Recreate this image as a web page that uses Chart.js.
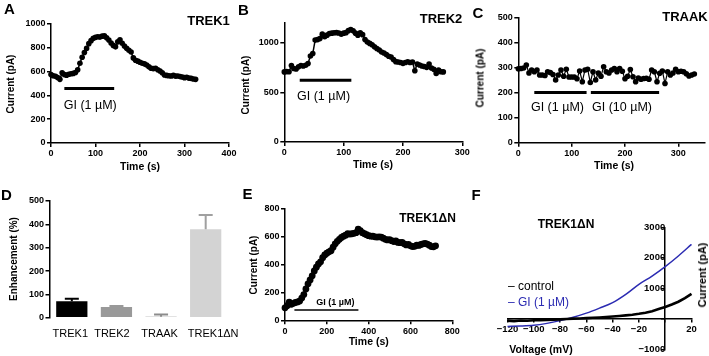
<!DOCTYPE html>
<html><head><meta charset="utf-8">
<script src="https://cdn.jsdelivr.net/npm/chart.js@4/dist/chart.umd.min.js"></script>
<style>
html,body{margin:0;padding:0;background:#fff;}
body{width:709px;height:356px;position:relative;overflow:hidden;font-family:"Liberation Sans",Arial,sans-serif;}
canvas{position:absolute;}
.t{position:absolute;transform:translate(-50%,-50%);white-space:nowrap;color:#000;line-height:1;}
.l{position:absolute;transform:translate(0,-50%);white-space:nowrap;line-height:1;}
.r{position:absolute;transform:translate(-50%,-50%) rotate(-90deg);white-space:nowrap;color:#000;line-height:1;}
</style></head><body>
<script>
// ---------- DATA ----------
// A: TREK1
const timeA = [0,5,10,15,20,25,30,35,40,45,50,55,60,65,70,75,80,85,90,95,100,105,110,115,120,125,130,135,140,145,150,155,160,165,170,175,180,185,190,195,200,205,210,215,220,225,230,235,240,245,250,255,260,265,270,275,280,285,290,295,300,305,310,315,320,325];
const currentA = [575,565,560,550,535,590,575,570,578,582,585,592,615,670,720,760,795,835,860,880,888,893,890,898,900,885,865,840,820,808,850,868,838,815,796,780,765,715,695,688,678,670,665,655,640,628,625,628,615,605,590,572,568,565,563,568,562,563,558,555,549,552,545,543,538,535];
const drugA = [[30,142]]; const drugLevelA = 459; const drugLabelA = ['GI (1 µM)'];
const xTicksA = [0,100,200,300,400]; const yTicksA = [0,200,400,600,800,1000];

// B: TREK2
const timeB = [0,4,8,12,16,20,24,28,32,36,40,44,48,52,56,60,64,68,72,76,80,84,88,92,96,100,104,108,112,116,120,124,128,132,136,140,144,148,152,156,160,164,168,172,176,180,184,188,192,196,200,204,208,212,216,220,224,228,232,236,240,244,248,252,256,260,264,268];
const currentB = [705,708,707,770,740,735,757,770,765,772,790,865,890,1025,1030,1040,1085,1058,1075,1092,1095,1098,1100,1097,1085,1095,1100,1120,1132,1118,1095,1075,1098,1080,1030,1005,992,978,958,940,925,905,895,880,862,855,830,808,805,800,791,800,807,800,805,717,784,775,764,760,751,784,745,731,690,724,707,705];
const drugB = [[26,113]]; const drugLevelB = 620; const drugLabelB = ['GI (1 µM)'];
const xTicksB = [0,100,200,300]; const yTicksB = [0,500,1000];

// C: TRAAK
const timeC = [0,5,10,15,20,25,30,35,40,45,50,55,60,65,70,75,80,85,90,95,100,105,110,115,120,125,130,135,140,145,150,155,160,165,170,175,180,185,190,195,200,205,210,215,220,225,230,235,240,245,250,255,260,265,270,275,280,285,290,295,300,305,310,315,320,325,330];
const currentC = [295,296,298,310,278,290,283,290,270,270,268,283,280,272,250,270,290,265,293,262,262,262,255,286,243,290,293,240,283,250,278,265,303,283,278,290,296,283,296,285,255,265,292,263,243,258,253,256,257,253,290,283,243,277,286,236,283,270,278,293,283,285,283,275,266,270,274];
const drugC = [[30,128],[136,264]]; const drugLevelC = 200; const drugLabelC = ['GI (1 µM)','GI (10 µM)'];
const xTicksC = [0,100,200,300]; const yTicksC = [0,100,200,300,400,500];

// D: enhancement
const channelsD = ['TREK1','TREK2','TRAAK','TREK1ΔN'];
const meanD = [71,46,4,379];
const semD = [10,4,10,61];
const yTicksD = [0,100,200,300,400,500];

// E: TREK1ΔN time course
const timeE = [0,10,20,30,40,50,60,70,80,90,100,110,120,130,140,150,160,170,180,190,200,210,220,230,240,250,260,270,280,290,300,310,320,330,340,350,360,370,380,390,400,410,420,430,440,450,460,470,480,490,500,510,520,530,540,550,560,570,580,590,600,610,620,630,640,650,660,670,680,690,700,710,720];
const currentE = [90,105,130,115,122,128,132,138,160,185,225,262,290,320,355,382,405,420,450,470,482,492,500,525,550,568,582,595,605,612,622,620,622,625,630,655,645,630,622,615,608,605,605,600,598,600,598,590,582,578,580,572,566,570,560,558,560,550,542,545,535,530,532,540,538,545,550,552,548,540,530,528,535];
const drugE = [[45,351]]; const drugLevelE = 74; const drugLabelE = ['GI (1 µM)'];
const xTicksE = [0,200,400,600,800]; const yTicksE = [0,200,400,600,800];

// F: I-V curves
const voltCtrl = [-120,-115,-110,-105,-100,-95,-90,-85,-80,-75,-70,-65,-60,-55,-50,-45,-40,-35,-30,-25,-20,-15,-10,-5,0,5,10,15,20];
const currentCtrl = [-60,-75,-55,-65,-50,-48,-40,-32,-20,-8,5,12,22,32,45,58,75,92,112,135,165,200,248,318,390,470,560,680,820];
const voltGI = [-120,-110,-100,-90,-80,-70,-60,-50,-40,-30,-20,-10,0,10,20];
const currentGI = [-250,-240,-215,-150,-60,50,185,350,530,800,1130,1400,1710,2060,2440];
const xTicksF = [-120,-100,-80,-60,-40,-20,0,20]; const yTicksF = [-1000,0,1000,2000,3000];

// ---------- SETUP ----------
const FAM = '"Liberation Sans", Arial, sans-serif';
Chart.defaults.font.family = FAM;
Chart.defaults.color = '#000';
Chart.defaults.animation = false;
Chart.defaults.responsive = false;
Chart.defaults.maintainAspectRatio = false;
Chart.defaults.plugins.legend.display = false;
Chart.defaults.plugins.tooltip.enabled = false;

function makeCanvas(r){
  const c = document.createElement('canvas');
  c.width = r.w; c.height = r.h;
  c.style.left = r.x+'px'; c.style.top = r.y+'px';
  c.style.width = r.w+'px'; c.style.height = r.h+'px';
  document.body.appendChild(c);
  return c;
}
const plain = v => String(v);
function linAxis(min,max,tickVals,fit,font){
  return {
    type:'linear', min, max,
    afterBuildTicks:(s)=>{ s.ticks = tickVals.map(v=>({value:v})); },
    ticks:{autoSkip:false, maxRotation:0, padding:1.5, color:'#000', callback:plain,
           font: font || {size:9, weight:'bold'}},
    grid:{drawOnChartArea:false, drawTicks:true, tickLength:4, color:'#000', lineWidth:1.5},
    border:{display:true, color:'#000', width:1.5},
    afterFit:(s)=>{ if(s.isHorizontal()) s.height = fit; else s.width = fit; }
  };
}
const drugPlugin = {
  id:'drug',
  afterDatasetsDraw(chart, args, o){
    if(!o || !o.bars) return;
    const {ctx} = chart; const x = chart.scales.x, y = chart.scales.y;
    ctx.save();
    o.bars.forEach((b,i)=>{
      const yy = y.getPixelForValue(o.level);
      const x1 = x.getPixelForValue(b[0]), x2 = x.getPixelForValue(b[1]);
      ctx.strokeStyle = '#000'; ctx.lineWidth = o.lw;
      ctx.beginPath(); ctx.moveTo(x1,yy); ctx.lineTo(x2,yy); ctx.stroke();
      ctx.fillStyle = '#000'; ctx.font = o.font; ctx.textAlign='center'; ctx.textBaseline='middle';
      ctx.fillText(o.labels[i], (x1+x2)/2 + o.dx, yy + o.dy);
    });
    ctx.restore();
  }
};
function timeChart(rect, area, xr, yr, xt, yt, xs, ys, ptR, lw, drug){
  const c = makeCanvas(rect);
  return new Chart(c, {
    type:'line',
    data:{datasets:[{data: xs.map((t,i)=>({x:t, y:ys[i]})), borderColor:'#000', backgroundColor:'#000',
      borderWidth:lw, pointRadius:ptR, pointBorderWidth:0, tension:0, clip:false}]},
    options:{
      layout:{padding:{left:0, top:area.t-rect.y, right:rect.x+rect.w-area.r, bottom:0}},
      scales:{x: linAxis(xr[0],xr[1],xt, rect.y+rect.h-area.b), y: linAxis(yr[0],yr[1],yt, area.l-rect.x)},
      plugins:{drug: drug}
    },
    plugins:[drugPlugin]
  });
}

// A
timeChart({x:0,y:0,w:245,h:175},{l:51,t:24,r:229,b:143},[0,400],[0,1000],xTicksA,yTicksA,timeA,currentA,2.8,1.5,
  {bars:drugA, level:drugLevelA, labels:drugLabelA, lw:3, font:'12.5px '+FAM, dx:1, dy:17.5});
// B
timeChart({x:235,y:0,w:240,h:175},{l:284.3,t:22.7,r:462.3,b:142},[0,300],[0,1200],xTicksB,yTicksB,timeB,currentB,2.8,1.5,
  {bars:drugB, level:drugLevelB, labels:drugLabelB, lw:3, font:'12.5px '+FAM, dx:-2, dy:16.5});
// C
timeChart({x:470,y:0,w:239,h:175},{l:518.3,t:17.3,r:705.8,b:142.7},[0,350],[0,500],xTicksC,yTicksC,timeC,currentC,2.8,1.2,
  {bars:drugC, level:drugLevelC, labels:drugLabelC, lw:3, font:'12.5px '+FAM, dx:-3, dy:15.5});
// E
timeChart({x:235,y:175,w:240,h:181},{l:285,t:209,r:452.3,b:320.3},[0,800],[0,800],xTicksE,yTicksE,timeE,currentE,3.4,3,
  {bars:drugE, level:drugLevelE, labels:drugLabelE, lw:1.5, font:'bold 9px '+FAM, dx:9, dy:-7.5});

// D
const barColors = ['#000000','#999999','#8c8c8c','#d3d3d3'];
const errColors = ['#000000','#999999','#8c8c8c','#a0a0a0'];
const labelShiftD = [-1.5,-4.5,-1.5,7.5];
const errPlugin = {
  id:'err',
  afterDatasetsDraw(chart){
    const meta = chart.getDatasetMeta(0); const y = chart.scales.y; const ctx = chart.ctx;
    ctx.save(); ctx.lineWidth = 2;
    meta.data.forEach((bar,i)=>{
      const top = y.getPixelForValue(meanD[i]); const e = y.getPixelForValue(meanD[i]+semD[i]);
      ctx.strokeStyle = errColors[i];
      ctx.beginPath(); ctx.moveTo(bar.x, top); ctx.lineTo(bar.x, e);
      ctx.moveTo(bar.x-7, e); ctx.lineTo(bar.x+7, e); ctx.stroke();
      ctx.fillStyle = '#000'; ctx.font = '11px '+FAM; ctx.textAlign = 'center'; ctx.textBaseline = 'middle';
      ctx.fillText(chart.data.labels[i], bar.x + labelShiftD[i], chart.chartArea.bottom + 16.3);
    });
    ctx.restore();
  }
};
(function(){
  const rect = {x:0,y:175,w:245,h:181}, area = {l:49.5,t:201,r:228,b:317.7};
  const c = makeCanvas(rect);
  new Chart(c, {
    type:'bar',
    data:{labels:channelsD, datasets:[{data:meanD, backgroundColor:barColors, borderWidth:0, barPercentage:0.7, categoryPercentage:1}]},
    options:{
      layout:{padding:{left:0, top:area.t-rect.y, right:rect.x+rect.w-area.r, bottom:0}},
      scales:{
        x:{type:'category', grid:{display:false, drawTicks:false}, border:{display:false},
           ticks:{display:false},
           afterFit:(s)=>{ s.height = rect.y+rect.h-area.b; }},
        y: linAxis(0,500,yTicksD, area.l-rect.x)
      }
    },
    plugins:[errPlugin]
  });
})();

// F
(function(){
  const rect = {x:470,y:175,w:239,h:181}, area = {l:507.5,t:227.3,r:691.5,b:350};
  const c = makeCanvas(rect);
  const fmt = v => v===0 ? '' : String(v).replace('-', '\u2212');
  const tf = {size:9.5, weight:'bold'};
  new Chart(c, {
    type:'line',
    data:{datasets:[
      {data: voltCtrl.map((v,i)=>({x:v,y:currentCtrl[i]})), borderColor:'#000', borderWidth:2.6, pointRadius:0, tension:0, clip:false},
      {data: voltGI.map((v,i)=>({x:v,y:currentGI[i]})), borderColor:'#2b2bb2', borderWidth:1.5, pointRadius:0, cubicInterpolationMode:'monotone', clip:false}
    ]},
    options:{
      layout:{padding:{left:area.l-rect.x, top:area.t-rect.y, right:rect.x+rect.w-area.r, bottom:rect.y+rect.h-area.b}},
      scales:{
        x:{type:'linear', min:-120, max:20, position:{y:0},
           afterBuildTicks:(s)=>{ s.ticks = xTicksF.map(v=>({value:v})); },
           ticks:{callback:fmt, font:tf, color:'#000', padding:2, autoSkip:false, maxRotation:0},
           grid:{drawOnChartArea:false, tickLength:3, color:'#000', lineWidth:1.5}, border:{color:'#000', width:1.5}},
        y:{type:'linear', min:-1000, max:3000, position:{x:0},
           afterBuildTicks:(s)=>{ s.ticks = yTicksF.map(v=>({value:v})); },
           ticks:{callback:fmt, font:tf, color:'#000', padding:1, autoSkip:false},
           grid:{drawOnChartArea:false, tickLength:3, color:'#000', lineWidth:1.5}, border:{color:'#000', width:1.5}}
      }
    }
  });
})();

// ---------- TEXT ----------
const T = [
  ['t','A',9.5,8,'bold 15px'],['t','B',243.3,8.5,'bold 15px'],['t','C',478,11.5,'bold 15px'],
  ['t','D',6.5,194,'bold 15px'],['t','E',247.5,192.5,'bold 15px'],['t','F',476,194,'bold 15px'],
  ['t','TREK1',208.5,20,'bold 13px'],['t','TREK2',441,18.3,'bold 13px'],['t','TRAAK',685,16,'bold 13px'],
  ['t','TREK1ΔN',427.5,218.3,'bold 12px'],['t','TREK1ΔN',566,224.3,'bold 12px'],
  ['r','Current (pA)',10,84,'bold 10px'],['t','Time (s)',140,166,'bold 10.5px'],
  ['r','Current (pA)',245,85,'bold 10px'],['t','Time (s)',373,164,'bold 10.5px'],
  ['r','Current (pA)',480,78,'bold 10px'],['t','Time (s)',614,165,'bold 10.5px'],
  ['r','Enhancement (%)',13,259,'bold 10px'],
  ['r','Current (pA)',253,264.5,'bold 10px'],['t','Time (s)',368.7,340.7,'bold 10.5px'],
  ['r','Current (pA)',701.7,275,'bold 11px'],['t','Voltage (mV)',541,349,'bold 10.5px'],
  ['l','– control',508,286,'12px','#000'],['l','– GI (1 µM)',508,302.3,'12px','#2b2bb2']
];
T.forEach(a=>{
  const d = document.createElement('div');
  d.className = a[0]; d.textContent = a[1];
  d.style.left = a[2]+'px'; d.style.top = a[3]+'px';
  d.style.font = a[4]+' '+FAM;
  if(a[5]) d.style.color = a[5];
  document.body.appendChild(d);
});
</script>
</body></html>
